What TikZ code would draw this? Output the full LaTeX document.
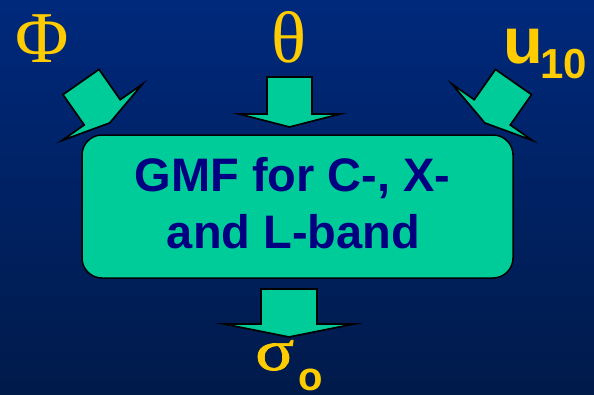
\documentclass[tikz,border=0pt]{standalone}
\usepackage{fontspec}
\setmainfont{Liberation Serif}
\newfontfamily\arialb{Liberation Sans}[BoldFont=* Bold]
\newfontfamily\sigmafont{Liberation Serif}[FakeStretch=1.25, FakeBold=1.2]
\definecolor{bgtop}{RGB}{0,41,124}
\definecolor{bgbot}{RGB}{0,26,74}
\definecolor{teal}{RGB}{0,204,153}
\definecolor{navytext}{RGB}{0,0,128}
\definecolor{gold}{RGB}{255,204,0}
\tikzset{
  arrowbody/.style={draw=black, fill=teal, line width=1.7pt, miter limit=12},
  pics/blockarrow/.style args={#1/#2/#3/#4}{code={
    \path[arrowbody] (-#1,0) -- (#1,0) -- (#1,#2) -- (#3,#2) -- (0,#4) -- (-#3,#2) -- (-#1,#2) -- cycle;
  }},
  greek/.style={text=gold, inner sep=0pt, anchor=base west, font=\fontsize{73}{73}\selectfont},
  sanslabel/.style={text=gold, inner sep=0pt, anchor=base west, font=\arialb\bfseries},
  gmfbox/.style={draw=black, line width=1.5pt, fill=teal, rounded corners=20pt, minimum width=431pt, minimum height=143pt, inner sep=0pt},
  gmftext/.style={text=navytext, align=center, inner sep=0pt, font=\arialb\bfseries\fontsize{47}{57}\selectfont}
}
\begin{document}
\begin{tikzpicture}[x=1pt,y=-1pt]
  \useasboundingbox (0,0) rectangle (594,394);
  \shade[top color=bgtop, bottom color=bgbot] (0,0) rectangle (594,394);
  % labels
  \node[greek] (phi) at (15,62) {Φ};
  \node[greek] (theta) at (271,62) {θ};
  \node[sanslabel, font=\arialb\bfseries\fontsize{65}{65}\selectfont] (u) at (503,63) {u};
  \node[sanslabel, font=\arialb\bfseries\fontsize{42}{42}\selectfont] (u10) at (540,78) {10};
  \node[greek, font=\sigmafont\fontsize{58}{58}\selectfont] (sigma) at (255,370) {σ};
  \node[sanslabel, font=\arialb\bfseries\fontsize{40}{40}\selectfont] (so) at (298,390) {o};
  % arrow anchors
  \coordinate (aL) at (81,82);
  \coordinate (aT) at (289.5,77);
  \coordinate (aR) at (513.5,82);
  \coordinate (aB) at (289,289);
  \pic[rotate=35] at (aL) {blockarrow={22}/{37}/{49}/{50}};
  \pic at (aT) {blockarrow={22.5}/{37}/{50.5}/{50}};
  \pic[rotate=-35] at (aR) {blockarrow={22}/{37}/{49}/{50}};
  \pic at (aB) {blockarrow={28}/{35}/{65}/{48}};
  % box
  \node[gmfbox] (box) at (297.5,206.5) {};
  \node[gmftext, anchor=base] (l1) at (292.5,191) {GMF for C-, X-};
  \node[gmftext, anchor=base] (l2) at (293.5,248) {and L-band};
\end{tikzpicture}
\end{document}
